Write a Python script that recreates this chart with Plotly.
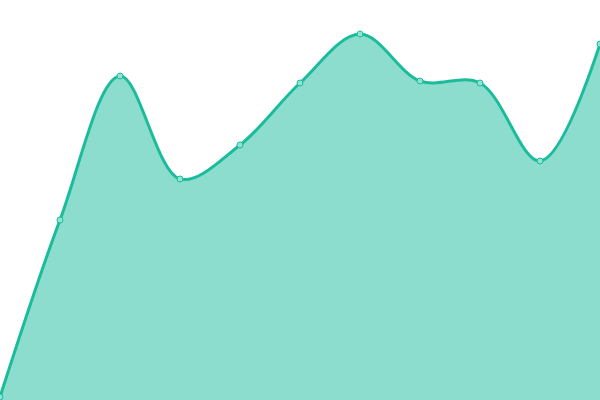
import plotly.graph_objects as go

# data
x_vals = [0, 1, 2, 3, 4, 5, 6, 7, 8, 9, 10]
y_vals = [3, 180, 324, 221, 255, 317, 366, 319, 317, 239, 356]

fig = go.Figure()
fig.add_trace(go.Scatter(
    x=x_vals,
    y=y_vals,
    mode="lines+markers",
    fill="tozeroy",
    fillcolor="rgba(26,188,156,0.5)",
    line=dict(color="#1abc9c", width=3, shape="spline", smoothing=1),
    marker=dict(size=6, color="#8fe3d3", line=dict(color="#1abc9c", width=1)),
    cliponaxis=False,
))

fig.update_layout(
    width=600,
    height=400,
    margin=dict(l=0, r=0, t=0, b=0),
    paper_bgcolor="white",
    plot_bgcolor="white",
    showlegend=False,
    xaxis=dict(visible=False, range=[0, 10]),
    yaxis=dict(visible=False, range=[0, 400]),
)

# drop the default 8px body margin so the chart fills the window
fig.write_html(
    "out.html",
    config={"displayModeBar": False},
    post_script="document.body.style.margin='0';",
)
